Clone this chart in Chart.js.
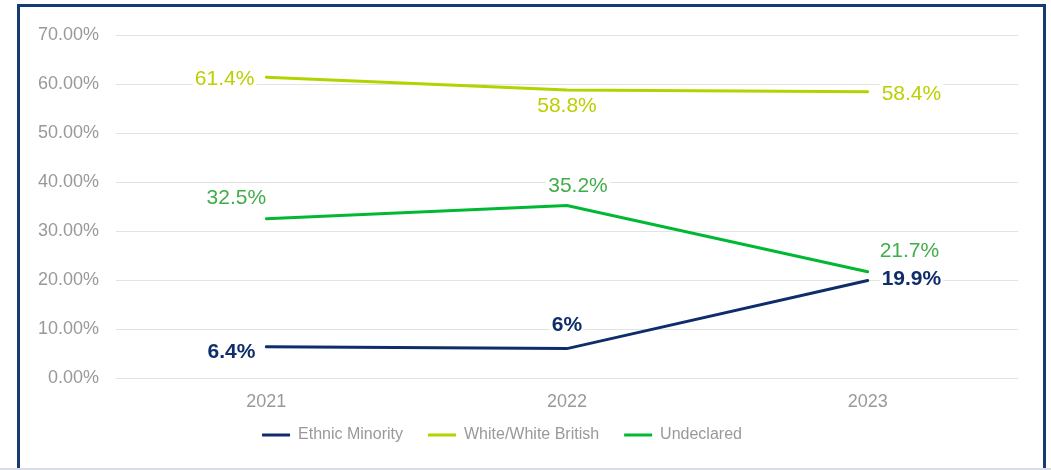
<!DOCTYPE html>
<html>
<head>
<meta charset="utf-8">
<script src="https://cdn.jsdelivr.net/npm/chart.js@4"></script>
<style>
  html, body { margin: 0; padding: 0; background: #fff; }
  body { width: 1051px; height: 470px; position: relative; overflow: hidden; }
  #frame { position: absolute; left: 17px; top: 4px; width: 1023px; height: 480px; border: 3px solid #163b73; box-sizing: content-box; }
  #baseline { position: absolute; left: 0; top: 468px; width: 1051px; height: 2px; background: #d9dde4; }
  #wrap { position: absolute; left: 0; top: 0; width: 1051px; height: 470px; }
</style>
</head>
<body>
<div id="frame"></div>
<div id="baseline"></div>
<div id="wrap"><canvas id="c" width="1051" height="470"></canvas></div>
<script>
const categories = ['2021', '2022', '2023'];
const ethnicMinority = [6.4, 6, 19.9];
const whiteBritish = [61.4, 58.8, 58.4];
const undeclared = [32.5, 35.2, 21.7];
const seriesNames = ['Ethnic Minority', 'White/White British', 'Undeclared'];
const yTicks = [0, 10, 20, 30, 40, 50, 60, 70];

const lineColors = ['#0e2d6a', '#b3d300', '#00b833'];
const labelColors = ['#0e2d6a', '#bccf00', '#40ad48'];
const labelWeights = ['bold', 'normal', 'normal'];
const FONT = "'Liberation Sans', Arial, sans-serif";

// label placement relative to each point (dx, dy to text center line, alignment)
const labelPlacement = [
  [{dx: -11, dy: 5, align: 'right'}, {dx: 0, dy: -24, align: 'center'}, {dx: 14, dy: -2, align: 'left'}],
  [{dx: -12, dy: 1, align: 'right'}, {dx: 0, dy: 15, align: 'center'}, {dx: 14, dy: 1, align: 'left'}],
  [{dx: -30, dy: -22, align: 'center'}, {dx: 11, dy: -20, align: 'center'}, {dx: 12, dy: -21, align: 'left'}]
];

const valueLabels = {
  id: 'valueLabels',
  afterDatasetsDraw(chart) {
    const ctx = chart.ctx;
    ctx.save();
    ctx.textBaseline = 'middle';
    chart.data.datasets.forEach((ds, di) => {
      ctx.font = labelWeights[di] + ' 21px ' + FONT;
      const meta = chart.getDatasetMeta(di);
      meta.data.forEach((pt, i) => {
        const pl = labelPlacement[di][i];
        const txt = String(ds.data[i]) + '%';
        const w = ctx.measureText(txt).width;
        const x = pt.x + pl.dx;
        const y = pt.y + pl.dy;
        let left = x;
        if (pl.align === 'center') left = x - w / 2;
        else if (pl.align === 'right') left = x - w;
        ctx.fillStyle = '#ffffff';
        ctx.fillRect(left - 2, y - 10, w + 4, 20);
        ctx.fillStyle = labelColors[di];
        ctx.textAlign = 'left';
        ctx.fillText(txt, left, y + 1);
      });
    });
    ctx.restore();
  }
};

// nudge the legend row after layout so it sits just under the year labels
const legendNudge = {
  id: 'legendNudge',
  afterLayout(chart) {
    const lg = chart.legend;
    if (!lg) return;
    lg.top -= 8; lg.bottom -= 8;
    lg.left -= 15; lg.right -= 15;
  }
};

const datasetValues = [ethnicMinority, whiteBritish, undeclared];

new Chart(document.getElementById('c'), {
  type: 'line',
  data: {
    labels: categories,
    datasets: datasetValues.map((vals, i) => ({
      label: seriesNames[i],
      data: vals,
      borderColor: lineColors[i],
      backgroundColor: lineColors[i],
      borderWidth: 3,
      pointRadius: 0,
      tension: 0,
      borderCapStyle: 'round',
      fill: false
    }))
  },
  options: {
    responsive: false,
    animation: false,
    devicePixelRatio: 1,
    layout: { padding: { left: 16, right: 33, top: 35, bottom: 9 } },
    scales: {
      x: {
        offset: true,
        grid: { display: false, drawTicks: false },
        border: { display: false },
        ticks: { color: '#999999', font: { family: FONT, size: 18 }, padding: 13 },
        afterFit(scale) { scale.height = 32; }
      },
      y: {
        min: 0,
        max: 70,
        afterBuildTicks(scale) { scale.ticks = yTicks.map(v => ({ value: v })); },
        grid: { color: '#e3e3e3', lineWidth: 1, drawTicks: false },
        border: { display: false },
        ticks: {
          color: '#999999',
          font: { family: FONT, size: 18 },
          padding: 17,
          callback: v => Number(v).toFixed(2) + '%'
        },
        afterFit(scale) { scale.width = 100; }
      }
    },
    plugins: {
      tooltip: { enabled: false },
      legend: {
        position: 'bottom',
        labels: {
          color: '#999999',
          font: { family: FONT, size: 16 },
          boxWidth: 28,
          boxHeight: 3,
          padding: 25,
          generateLabels(chart) {
            return Chart.defaults.plugins.legend.labels.generateLabels(chart).map(l => Object.assign(l, { lineWidth: 0, fillStyle: l.strokeStyle }));
          }
        }
      }
    }
  },
  plugins: [valueLabels, legendNudge]
});
</script>
</body>
</html>
